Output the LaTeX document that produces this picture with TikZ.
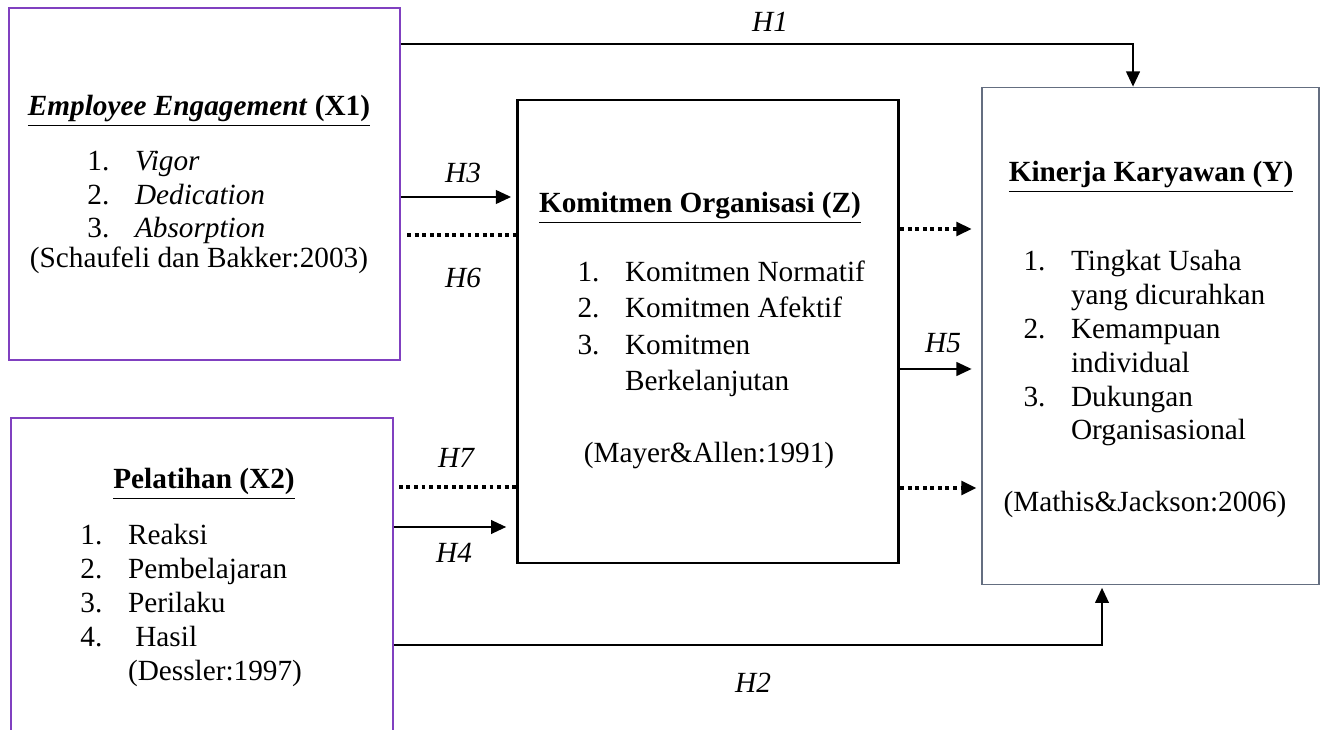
\documentclass[tikz,border=0pt]{standalone}
\usepackage{fontspec}
\setmainfont{Liberation Serif}
\usetikzlibrary{arrows.meta,positioning}
\definecolor{varpurple}{RGB}{128,64,192}
\definecolor{boxgray}{RGB}{100,110,128}
\newcommand{\itemno}[1]{\makebox[19.5pt][l]{#1}}

\begin{document}
\begin{tikzpicture}
			[x=0.41pt, y=-0.41pt, font=\fontsize{12}{13.9}\selectfont,
			 varbox/.style={draw=varpurple, line width=0.8pt, inner sep=0pt},
			 midbox/.style={draw, line width=1.1pt, inner sep=0pt},
			 endbox/.style={draw=boxgray, line width=0.5pt, inner sep=0pt},
			 lbl/.style={inner sep=0pt, anchor=base},
			 lst/.style={inner sep=0pt, anchor=base west, align=left},
			 hyp/.style={inner sep=0pt, font=\fontsize{12}{13.9}\selectfont\itshape},
			 tip/.style={-{Triangle[length=6.2pt,width=5.6pt]}},
			 arr/.style={line width=0.8pt, tip},
			 dots/.style={line width=1.3pt, dash pattern=on 1.6pt off 1.5pt}]
			\path[use as bounding box, clip] (0,0) rectangle (1326,730);
			\node[varbox, minimum width=160.3pt, minimum height=144.3pt] (x1) at (204.5,184) {};
			\node[varbox, minimum width=156.6pt, minimum height=144.3pt] (x2) at (202,594) {};
			\node[midbox, minimum width=156.4pt, minimum height=189.8pt] (z) at (708,331.5) {};
			\node[endbox, minimum width=138.2pt, minimum height=204pt] (y) at (1150.5,336) {};
			
			\node[lbl] (x1head) at (199,116) {\underline{\textbf{\textit{Employee Engagement}} \textbf{(X1)}}};
			\node[lst] (x1list) at (87,238) {\itemno{1.}\textit{Vigor}\\ \itemno{2.}\textit{Dedication}\\ \itemno{3.}\textit{Absorption}};
			\node[lbl] (x1cite) at (199,268) {(Schaufeli dan Bakker:2003)};
			
			\node[lbl] (x2head) at (204,489) {\underline{\textbf{Pelatihan (X2)}}};
			\node[lst] (x2list) at (80,680) {\itemno{1.}Reaksi\\ \itemno{2.}Pembelajaran\\ \itemno{3.}Perilaku\\ \itemno{4.}\ Hasil\\ \itemno{}(Dessler:1997)};
			
			\node[lbl] (zhead) at (700,213) {\underline{\textbf{Komitmen Organisasi (Z)}}};
			\node[lst, font=\fontsize{12}{15}\selectfont] (zlist) at (577,391) {\itemno{1.}Komitmen Normatif\\ \itemno{2.}Komitmen Afektif\\ \itemno{3.}Komitmen\\ \itemno{}Berkelanjutan};
			\node[lbl] (zcite) at (709,463) {(Mayer\&Allen:1991)};
			
			\node[lbl] (yhead) at (1151,182) {\underline{\textbf{Kinerja Karyawan (Y)}}};
			\node[lst] (ylist) at (1023,440) {\itemno{1.}Tingkat Usaha\\ \itemno{}yang dicurahkan\\ \itemno{2.}Kemampuan\\ \itemno{}individual\\ \itemno{3.}Dukungan\\ \itemno{}Organisasional};
			\node[lbl] (ycite) at (1145,511) {(Mathis\&Jackson:2006)};
			
			\node[hyp] (h1) at (770,22) {H1};
			\node[hyp] (h2) at (753,683) {H2};
			\node[hyp] (h3) at (463,173) {H3};
			\node[hyp] (h4) at (454,553) {H4};
			\node[hyp] (h5) at (943,343) {H5};
			\node[hyp] (h6) at (463,278) {H6};
			\node[hyp] (h7) at (456,458) {H7};
			
			\draw[arr] (x1.east |- 0,44) -| (y.north -| 1133,0);
			\draw[arr, shorten >=1pt] (x2.east |- 0,645) -| (y.south -| 1102,0);
			\draw[arr, shorten >=2pt] (x1.east |- 0,197) -- (z.west |- 0,197);
			\draw[dots, shorten <=2.5pt] (x1.east |- 0,235) -- (z.west |- 0,235);
			\draw[dots, shorten <=2pt] (x2.east |- 0,487) -- (z.west |- 0,487);
			\draw[arr, shorten >=4pt] (x2.east |- 0,527) -- (z.west |- 0,527);
			\draw[dots, tip, shorten >=4pt] (z.east |- 0,229) -- (y.west |- 0,229);
			\draw[arr, shorten >=4pt] (z.east |- 0,369) -- (y.west |- 0,369);
			\draw[dots, tip, shorten >=2pt] (z.east |- 0,488) -- (y.west |- 0,488);
		\end{tikzpicture}
\end{document}
